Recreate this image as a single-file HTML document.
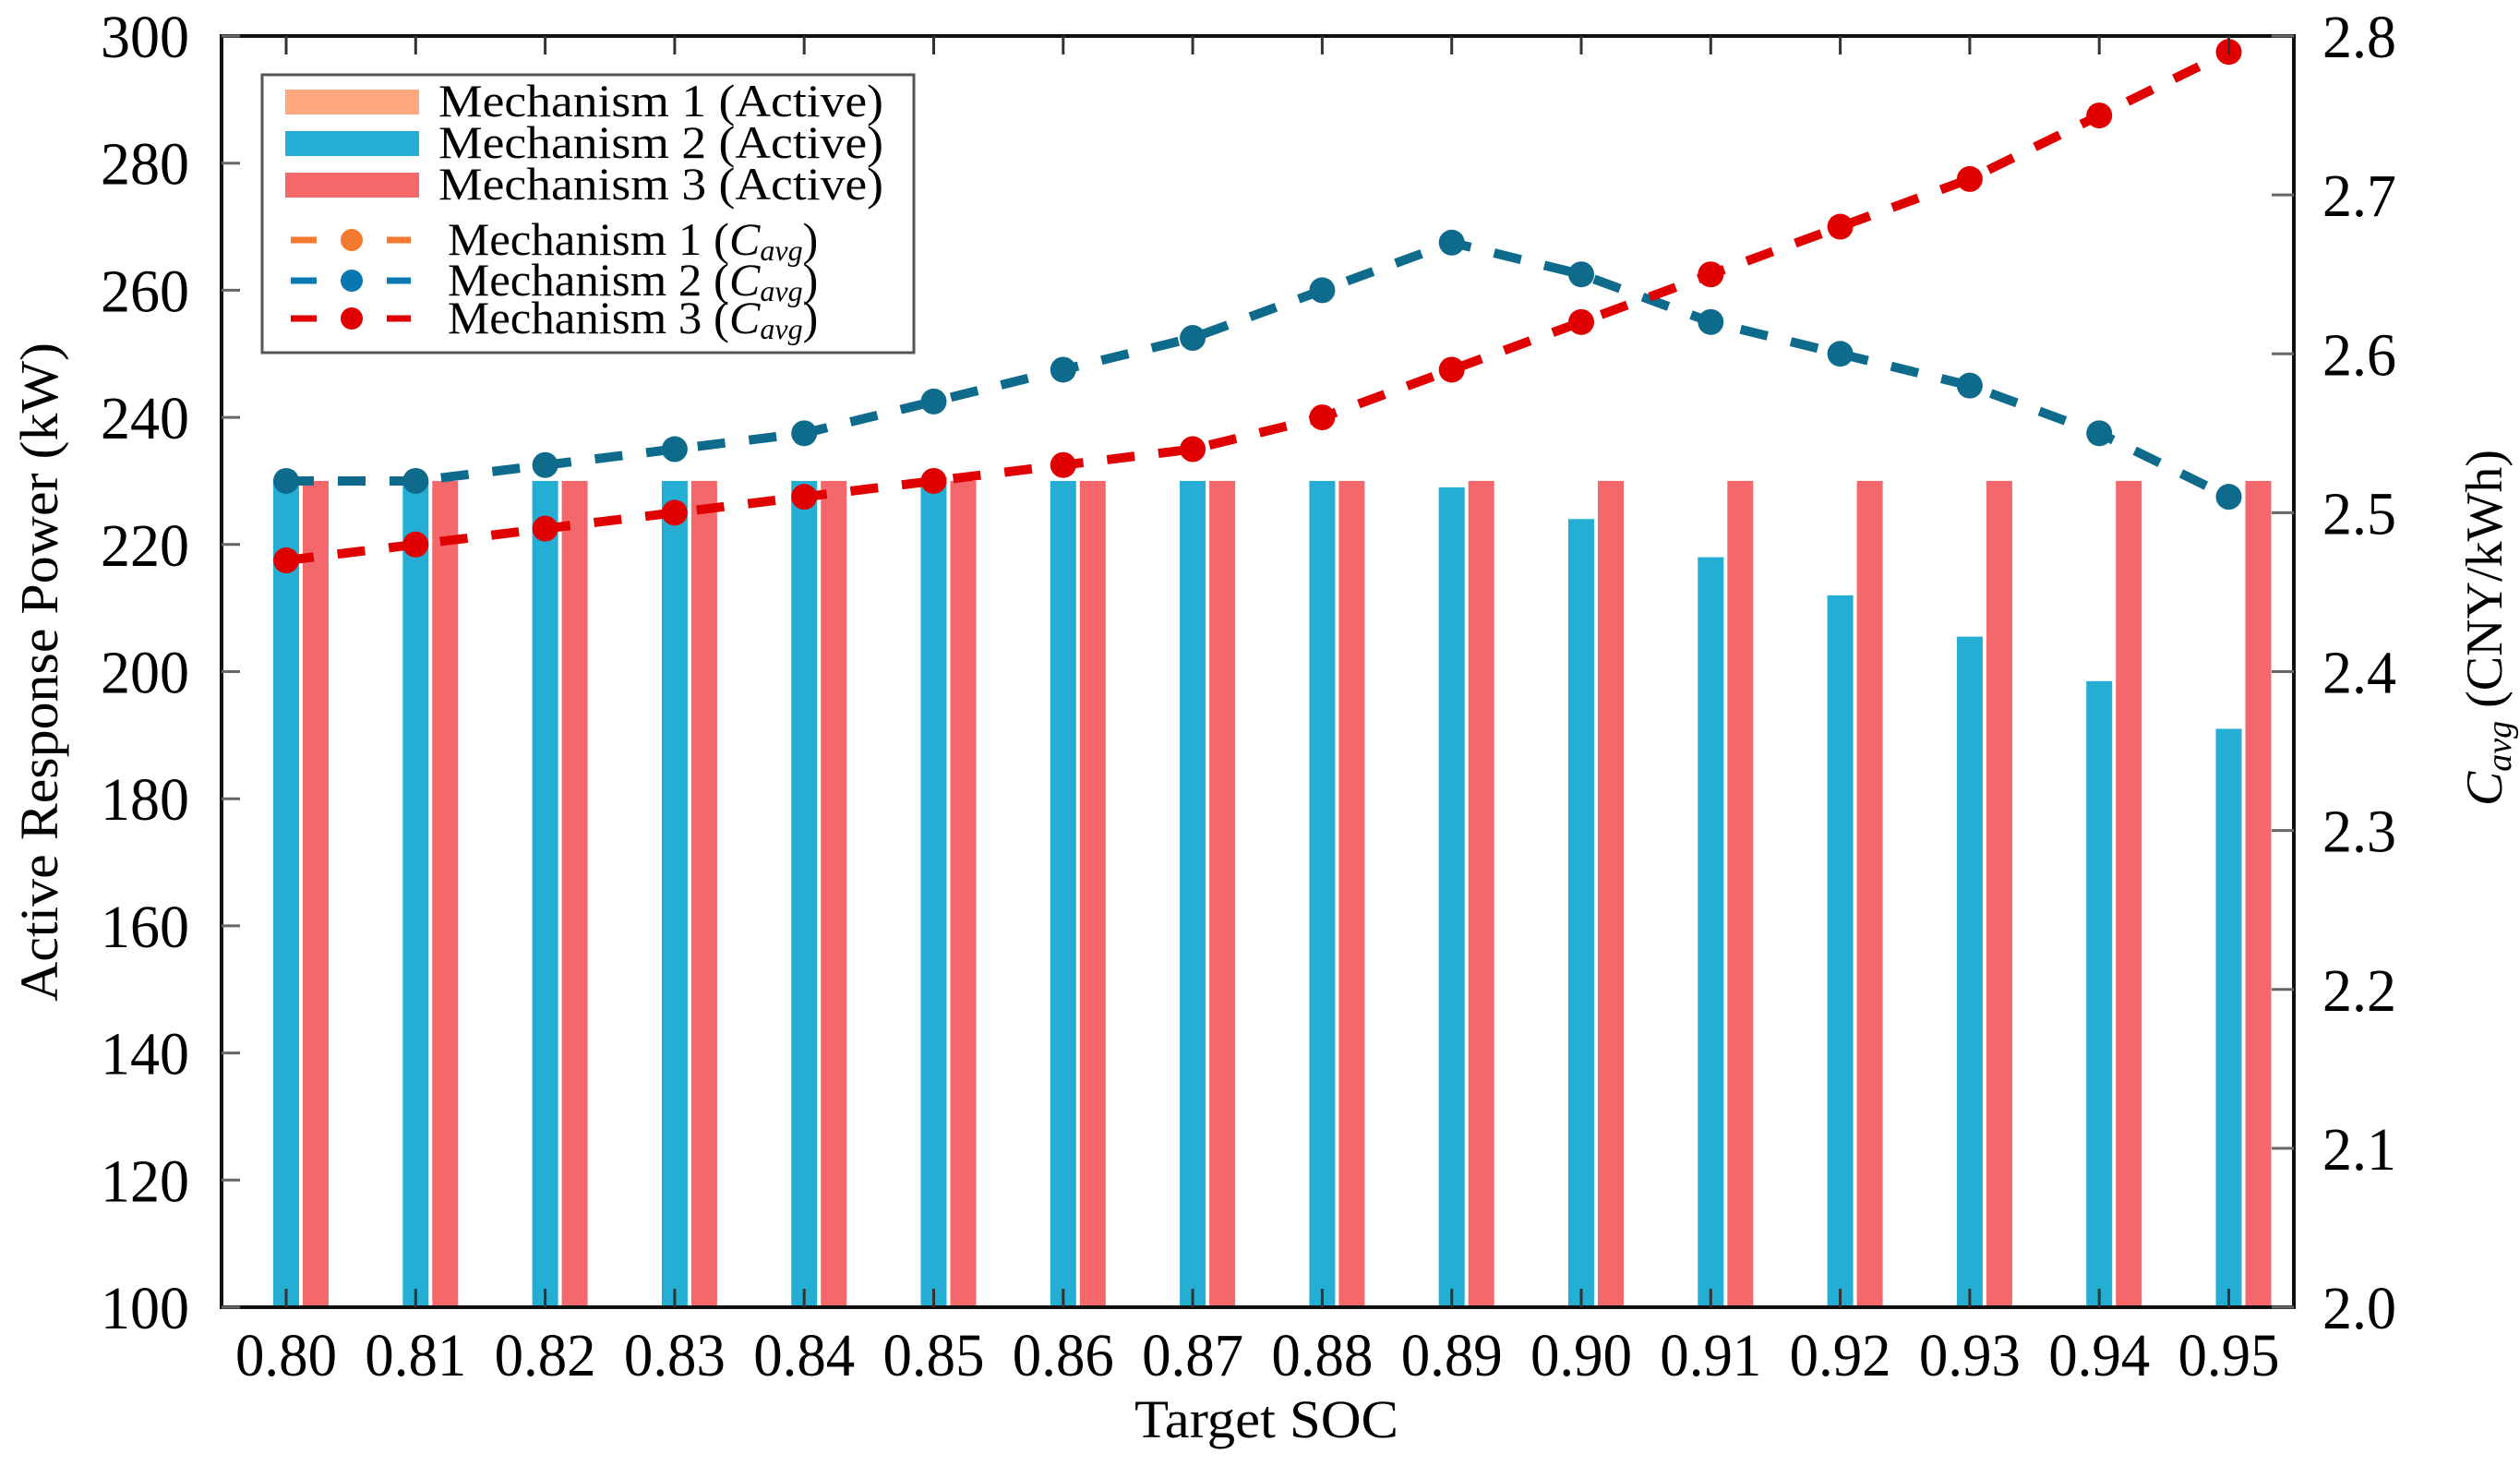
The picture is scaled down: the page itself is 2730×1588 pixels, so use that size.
<!DOCTYPE html>
<html><head><meta charset="utf-8"><style>
html,body{margin:0;padding:0;background:#fff;}
svg{display:block;}
text{font-family:"Liberation Serif",serif;fill:#000;}
</style></head><body>
<svg id="chart" width="2730" height="1588" viewBox="0 0 2730 1588" xmlns="http://www.w3.org/2000/svg">
<g id="bars"></g>
<g id="lines"></g>
<g id="axes"></g>
<text x="0" y="0" font-size="58" transform="translate(62,728) rotate(-90)" text-anchor="middle" textLength="714" lengthAdjust="spacingAndGlyphs">Active Response Power (kW)</text>
<text x="1372" y="1557" font-size="58" text-anchor="middle" textLength="286" lengthAdjust="spacingAndGlyphs">Target SOC</text>
<text transform="translate(2710,680) rotate(-90)" font-size="56" text-anchor="middle"><tspan font-style="italic">C</tspan><tspan font-style="italic" font-size="38" dy="10">avg</tspan><tspan dy="-10"> (CNY/kWh)</tspan></text>
<g>
<rect x="284" y="81" width="706" height="301" fill="#fff" stroke="#555" stroke-width="3"/>
<rect x="309" y="97" width="145" height="27" fill="#ffa77f"/>
<rect x="309" y="142" width="145" height="27" fill="#24aed3"/>
<rect x="309" y="187" width="145" height="27" fill="#f4676b"/>
<text x="475" y="126" font-size="50" textLength="482" lengthAdjust="spacingAndGlyphs">Mechanism 1 (Active)</text>
<text x="475" y="171" font-size="50" textLength="482" lengthAdjust="spacingAndGlyphs">Mechanism 2 (Active)</text>
<text x="475" y="216" font-size="50" textLength="482" lengthAdjust="spacingAndGlyphs">Mechanism 3 (Active)</text>
<g><line x1="315" y1="260" x2="343" y2="260" stroke="#f47a30" stroke-width="7"/><line x1="419" y1="260" x2="445" y2="260" stroke="#f47a30" stroke-width="7"/><circle cx="381" cy="260" r="12" fill="#f47a30"/></g>
<g><line x1="315" y1="304" x2="343" y2="304" stroke="#0a78b0" stroke-width="7"/><line x1="419" y1="304" x2="445" y2="304" stroke="#0a78b0" stroke-width="7"/><circle cx="381" cy="304" r="12" fill="#0a78b0"/></g>
<g><line x1="315" y1="345" x2="343" y2="345" stroke="#e00000" stroke-width="7"/><line x1="419" y1="345" x2="445" y2="345" stroke="#e00000" stroke-width="7"/><circle cx="381" cy="345" r="12" fill="#e00000"/></g>
<text x="485" y="276" font-size="50"><tspan textLength="305" lengthAdjust="spacingAndGlyphs">Mechanism 1 (</tspan><tspan font-style="italic">C</tspan><tspan font-style="italic" font-size="32" dy="6">avg</tspan><tspan dy="-6">)</tspan></text>
<text x="485" y="320" font-size="50"><tspan textLength="305" lengthAdjust="spacingAndGlyphs">Mechanism 2 (</tspan><tspan font-style="italic">C</tspan><tspan font-style="italic" font-size="32" dy="6">avg</tspan><tspan dy="-6">)</tspan></text>
<text x="485" y="361" font-size="50"><tspan textLength="305" lengthAdjust="spacingAndGlyphs">Mechanism 3 (</tspan><tspan font-style="italic">C</tspan><tspan font-style="italic" font-size="32" dy="6">avg</tspan><tspan dy="-6">)</tspan></text>
</g>
</svg>
<script>
const categories = ["0.80","0.81","0.82","0.83","0.84","0.85","0.86","0.87","0.88","0.89","0.90","0.91","0.92","0.93","0.94","0.95"];
const m2Active = [230,230,230,230,230,230,230,230,230,229,224,218,212,205.5,198.5,191];
const m3Active = [230,230,230,230,230,230,230,230,230,230,230,230,230,230,230,230];
const m2Cavg = [2.52,2.52,2.53,2.54,2.55,2.57,2.59,2.61,2.64,2.67,2.65,2.62,2.60,2.58,2.55,2.51];
const m3Cavg = [2.47,2.48,2.49,2.50,2.51,2.52,2.53,2.54,2.56,2.59,2.62,2.65,2.68,2.71,2.75,2.79];
const leftTicks = [100,120,140,160,180,200,220,240,260,280,300];
const rightTicks = ["2.0","2.1","2.2","2.3","2.4","2.5","2.6","2.7","2.8"];

const NS="http://www.w3.org/2000/svg";
const L=240,R=2485,T=39,B=1416;
const xPos=i=>310+i*140.3;
const yL=v=>B-(v-100)/200*(B-T);
const yR=v=>B-(v-2.0)/0.8*(B-T);
function mk(tag,attrs,parent){const e=document.createElementNS(NS,tag);for(const k in attrs)e.setAttribute(k,attrs[k]);parent.appendChild(e);return e;}
const bars=document.getElementById('bars'),lines=document.getElementById('lines'),axes=document.getElementById('axes');
const bw=28;
categories.forEach((c,i)=>{
  const x=xPos(i);
  let b=mk('rect',{x:x-bw/2,y:yL(m2Active[i]),width:bw,height:B-yL(m2Active[i]),fill:'#24aed3'},bars);
  
  
  let r=mk('rect',{x:x-bw/2+32,y:yL(m3Active[i]),width:bw,height:B-yL(m3Active[i]),fill:'#f4676b'},bars);
  
  
});
function series(vals,color,name){
  const pts=vals.map((v,i)=>xPos(i)+','+yR(v)).join(' ');
  const pl=mk('polyline',{points:pts,fill:'none',stroke:color,'stroke-width':10,'stroke-dasharray':'30,26'},lines);
  
  
  vals.forEach((v,i)=>{
    const c=mk('circle',{cx:xPos(i),cy:yR(v),r:14,fill:color},lines);
    
    
  });
}
series(m2Cavg,'#0e6b8c','m2-cavg');
series(m3Cavg,'#e00000','m3-cavg');
const fr=mk('rect',{x:L,y:T,width:R-L,height:B-T,fill:'none',stroke:'#111','stroke-width':4},axes);


leftTicks.forEach(v=>{
  const y=yL(v);
  mk('line',{x1:L,y1:y,x2:L+20,y2:y,stroke:'#666','stroke-width':3},axes);
  const t=mk('text',{x:205,y:y+23,'font-size':66,'text-anchor':'end',textLength:96,lengthAdjust:'spacingAndGlyphs'},axes);
  t.textContent=v;
  
  
});
rightTicks.forEach(v=>{
  const y=yR(parseFloat(v));
  mk('line',{x1:R-24,y1:y,x2:R,y2:y,stroke:'#666','stroke-width':3},axes);
  const t=mk('text',{x:2516,y:y+23,'font-size':66,textLength:80,lengthAdjust:'spacingAndGlyphs'},axes);
  t.textContent=v;
  
  
});
categories.forEach((c,i)=>{
  const x=xPos(i);
  mk('line',{x1:x,y1:B,x2:x,y2:B-20,stroke:'#333','stroke-width':3},axes);
  mk('line',{x1:x,y1:T,x2:x,y2:T+20,stroke:'#333','stroke-width':3},axes);
  const t=mk('text',{x:x,y:1490,'font-size':66,'text-anchor':'middle',textLength:110,lengthAdjust:'spacingAndGlyphs'},axes);
  t.textContent=c;
  
  
});
</script>
</body></html>
